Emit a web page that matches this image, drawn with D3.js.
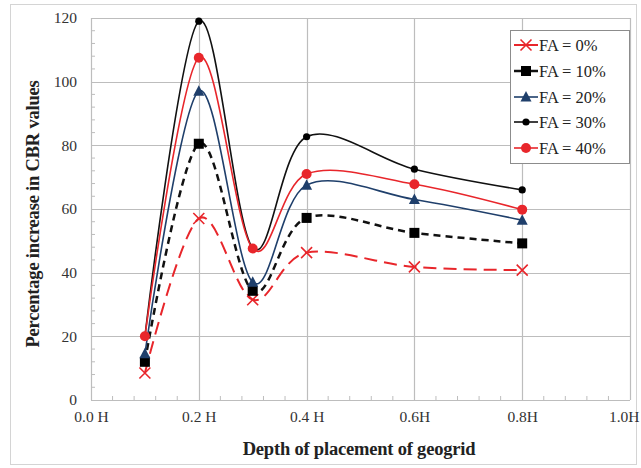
<!DOCTYPE html>
<html>
<head>
<meta charset="utf-8">
<script src="https://cdn.jsdelivr.net/npm/d3@7"></script>
<style>
  html, body { margin: 0; padding: 0; background: #fff; }
  svg { display: block; }
</style>
</head>
<body>
<svg id="chart" width="641" height="468"></svg>
<script>
// Depth of geogrid placement (fraction of H)
const depths = [0.1, 0.2, 0.3, 0.4, 0.6, 0.8];

// Percentage increase in CBR for each fly-ash content
const fa0  = [8.5, 57, 31.5, 46.3, 41.8, 40.8];
const fa10 = [12, 80.5, 34.3, 57.2, 52.5, 49.2];
const fa20 = [14.5, 97, 37, 67.5, 63, 56.5];
const fa30 = [20, 119, 47.8, 82.7, 72.5, 66];
const fa40 = [20, 107.5, 47.6, 71, 67.8, 59.8];

const seriesNames = ["FA = 0%", "FA = 10%", "FA = 20%", "FA = 30%", "FA = 40%"];

const xTickValues = [0, 0.2, 0.4, 0.6, 0.8, 1.0];
const xTickLabels = ["0.0 H", "0.2 H", "0.4 H", "0.6H", "0.8H", "1.0H"];
const yTickValues = [0, 20, 40, 60, 80, 100, 120];

const styles = [
  { color: "#e8262b", width: 2,   dash: "13,7", marker: "cross" },
  { color: "#111111", width: 2.5, dash: "7,5",  marker: "square" },
  { color: "#1f3f6b", width: 1.6, dash: null,   marker: "triangle" },
  { color: "#111111", width: 1.6, dash: null,   marker: "dot" },
  { color: "#e8262b", width: 1.6, dash: null,   marker: "circle" }
];

const series = [fa0, fa10, fa20, fa30, fa40].map((vals, i) => ({
  name: seriesNames[i],
  style: styles[i],
  points: depths.map((d, j) => ({ x: d, y: vals[j] }))
}));

const svg = d3.select("#chart");
const W = 641, H = 468;
const margin = { left: 91, right: 11, top: 18, bottom: 68 };
const serif = "'Liberation Serif', 'Times New Roman', serif";

const x = d3.scaleLinear().domain([0, 1.0]).range([margin.left, W - margin.right]);
const y = d3.scaleLinear().domain([0, 120]).range([H - margin.bottom, margin.top]);

// outer chart frame
svg.append("rect")
  .attr("x", 10.5).attr("y", 4.5).attr("width", 626).attr("height", 460)
  .attr("fill", "#fff").attr("stroke", "#d4d4d4").attr("stroke-width", 1);

// grid lines
const grid = svg.append("g");
grid.selectAll(".hg").data(yTickValues).enter().append("line")
  .attr("x1", x(0)).attr("x2", x(1))
  .attr("y1", d => Math.round(y(d)) + 0.5).attr("y2", d => Math.round(y(d)) + 0.5)
  .attr("stroke", "#bdbdbd").attr("stroke-width", 1.2);
grid.selectAll(".vg").data(xTickValues).enter().append("line")
  .attr("y1", y(0)).attr("y2", y(120))
  .attr("x1", d => Math.round(x(d)) + 0.5).attr("x2", d => Math.round(x(d)) + 0.5)
  .attr("stroke", "#bdbdbd").attr("stroke-width", 1.2);

// minor ticks along the axes
const minorY = d3.range(0, 121, 4).filter(v => v % 20 !== 0);
svg.append("g").selectAll("line").data(minorY).enter().append("line")
  .attr("x1", x(0)).attr("x2", x(0) + 4)
  .attr("y1", d => y(d)).attr("y2", d => y(d))
  .attr("stroke", "#bdbdbd");
const minorX = d3.range(0, 1.0001, 0.04).filter(v => Math.abs(v * 5 - Math.round(v * 5)) > 1e-6);
svg.append("g").selectAll("line").data(minorX).enter().append("line")
  .attr("x1", d => x(d)).attr("x2", d => x(d))
  .attr("y1", y(0)).attr("y2", y(0) - 4)
  .attr("stroke", "#bdbdbd");

// axes (labels only; lines come from the grid)
const yAxis = d3.axisLeft(y).tickValues(yTickValues).tickSize(0).tickPadding(14);
const gy = svg.append("g").attr("transform", `translate(${x(0)},0)`).call(yAxis);
gy.select(".domain").remove();
gy.selectAll("text")
  .attr("font-family", serif)
  .attr("font-size", 15.5).attr("fill", "#333");

const xAxis = d3.axisBottom(x).tickValues(xTickValues)
  .tickFormat((d, i) => xTickLabels[i]).tickSize(0).tickPadding(11);
const gx = svg.append("g").attr("transform", `translate(0,${y(0)})`).call(xAxis);
gx.select(".domain").remove();
gx.selectAll("text")
  .attr("font-family", serif)
  .attr("font-size", 15.5).attr("fill", "#333");
// keep the last label inside the frame
gx.selectAll(".tick").filter(d => d === 1.0).select("text")
  .attr("text-anchor", "end").attr("dx", 9);

// axis titles
svg.append("text")
  .attr("x", 359).attr("y", 455)
  .attr("text-anchor", "middle")
  .attr("font-family", serif)
  .attr("font-weight", "bold").attr("font-size", 18.5).attr("fill", "#222")
  .attr("letter-spacing", -0.2)
  .text("Depth of placement of geogrid");

svg.append("text")
  .attr("transform", `translate(39,214) rotate(-90)`)
  .attr("text-anchor", "middle")
  .attr("font-family", serif)
  .attr("font-weight", "bold").attr("font-size", 18.5).attr("fill", "#222")
  .attr("letter-spacing", -0.2)
  .text("Percentage increase in CBR  values");

// marker drawing helper
function drawMarker(g, type, color, cx, cy) {
  if (type === "cross") {
    const s = 5.5;
    g.append("path")
      .attr("d", `M${cx - s},${cy - s}L${cx + s},${cy + s}M${cx - s},${cy + s}L${cx + s},${cy - s}`)
      .attr("stroke", color).attr("stroke-width", 1.6).attr("fill", "none");
  } else if (type === "square") {
    g.append("rect").attr("x", cx - 5).attr("y", cy - 5).attr("width", 10).attr("height", 10)
      .attr("fill", "#000");
  } else if (type === "triangle") {
    g.append("path")
      .attr("d", `M${cx},${cy - 6}L${cx + 5.5},${cy + 4.5}L${cx - 5.5},${cy + 4.5}Z`)
      .attr("fill", color);
  } else if (type === "dot") {
    g.append("circle").attr("cx", cx).attr("cy", cy).attr("r", 3.6).attr("fill", "#000");
  } else if (type === "circle") {
    g.append("circle").attr("cx", cx).attr("cy", cy).attr("r", 5).attr("fill", color);
  }
}

// smoothed series lines
const line = d3.line()
  .x(d => x(d.x)).y(d => y(d.y))
  .curve(d3.curveCardinal.tension(0));

const plot = svg.append("g");
series.forEach(s => {
  const g = plot.append("g");
  g.append("path")
    .datum(s.points)
    .attr("d", line)
    .attr("fill", "none")
    .attr("stroke", s.style.color)
    .attr("stroke-width", s.style.width)
    .attr("stroke-dasharray", s.style.dash);
  s.points.forEach(p => drawMarker(g, s.style.marker, s.style.color, x(p.x), y(p.y)));
});

// legend
const lg = svg.append("g");
lg.append("rect")
  .attr("x", 510.5).attr("y", 30.5).attr("width", 119).attr("height", 133)
  .attr("fill", "#fff").attr("stroke", "#8c8c8c").attr("stroke-width", 1);
const legY = [45, 71, 97, 122, 148];
series.forEach((s, i) => {
  const cy = legY[i];
  lg.append("line")
    .attr("x1", 514).attr("x2", 538).attr("y1", cy).attr("y2", cy)
    .attr("stroke", s.style.color).attr("stroke-width", s.style.width);
  drawMarker(lg, s.style.marker, s.style.color, 526, cy);
  lg.append("text")
    .attr("x", 539).attr("y", cy + 5.5)
    .attr("font-family", serif)
    .attr("font-size", 16.5).attr("fill", "#222")
    .text(s.name);
});
</script>
</body>
</html>
